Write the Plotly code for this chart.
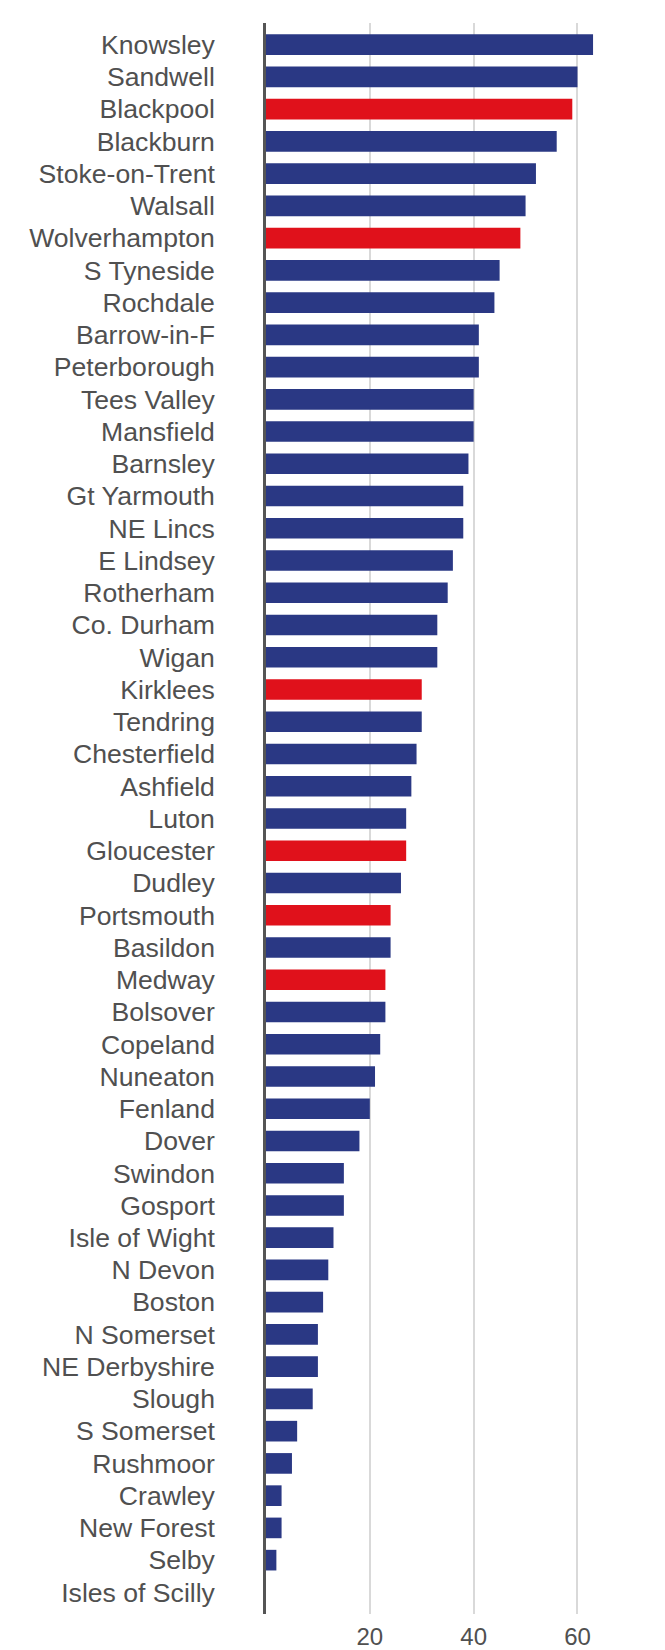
import plotly.graph_objects as go

areas = [
    "Knowsley", "Sandwell", "Blackpool", "Blackburn", "Stoke-on-Trent", "Walsall",
    "Wolverhampton", "S Tyneside", "Rochdale", "Barrow-in-F", "Peterborough",
    "Tees Valley", "Mansfield", "Barnsley", "Gt Yarmouth", "NE Lincs", "E Lindsey",
    "Rotherham", "Co. Durham", "Wigan", "Kirklees", "Tendring", "Chesterfield",
    "Ashfield", "Luton", "Gloucester", "Dudley", "Portsmouth", "Basildon", "Medway",
    "Bolsover", "Copeland", "Nuneaton", "Fenland", "Dover", "Swindon", "Gosport",
    "Isle of Wight", "N Devon", "Boston", "N Somerset", "NE Derbyshire", "Slough",
    "S Somerset", "Rushmoor", "Crawley", "New Forest", "Selby", "Isles of Scilly",
]
values = [
    63, 60, 59, 56, 52, 50,
    49, 45, 44, 41, 41,
    40, 40, 39, 38, 38, 36,
    35, 33, 33, 30, 30, 29,
    28, 27, 27, 26, 24, 24, 23,
    23, 22, 21, 20, 18, 15, 15,
    13, 12, 11, 10, 10, 9,
    6, 5, 3, 3, 2, 0,
]
highlighted = ["Blackpool", "Wolverhampton", "Kirklees", "Gloucester", "Portsmouth", "Medway"]
x_ticks = [20, 40, 60]

NAVY = "#2a3884"
RED = "#e0111b"
colors = [RED if a in highlighted else NAVY for a in areas]

fig = go.Figure(go.Bar(
    x=values, y=areas, orientation="h",
    marker=dict(color=colors, line=dict(width=0)),
))

n = len(areas)
pad = 0.17
fig.update_layout(
    width=665, height=1650,
    margin=dict(l=258, r=0, t=15, b=44),
    paper_bgcolor="white", plot_bgcolor="white",
    bargap=0.36,
    showlegend=False,
    font=dict(family="Liberation Sans, Arial, sans-serif", color="#505050"),
)
fig.update_yaxes(
    type="category",
    range=[n - 1 + 0.5 + pad, -0.5 - pad],
    showline=True, linecolor="#555555", linewidth=2.5,
    showgrid=False, ticks="",
    tickfont=dict(size=26.6, color="#505050"),
    ticklabelstandoff=43,
)
fig.update_xaxes(
    range=[0, 78.4],
    tickvals=x_ticks, ticktext=[str(v) for v in x_ticks],
    showgrid=True, gridcolor="#d9d9d9", gridwidth=1.5,
    zeroline=False, showline=False, ticks="",
    tickfont=dict(size=24, color="#505050"),
    ticklabelstandoff=6,
)

fig.write_html("out.html")
